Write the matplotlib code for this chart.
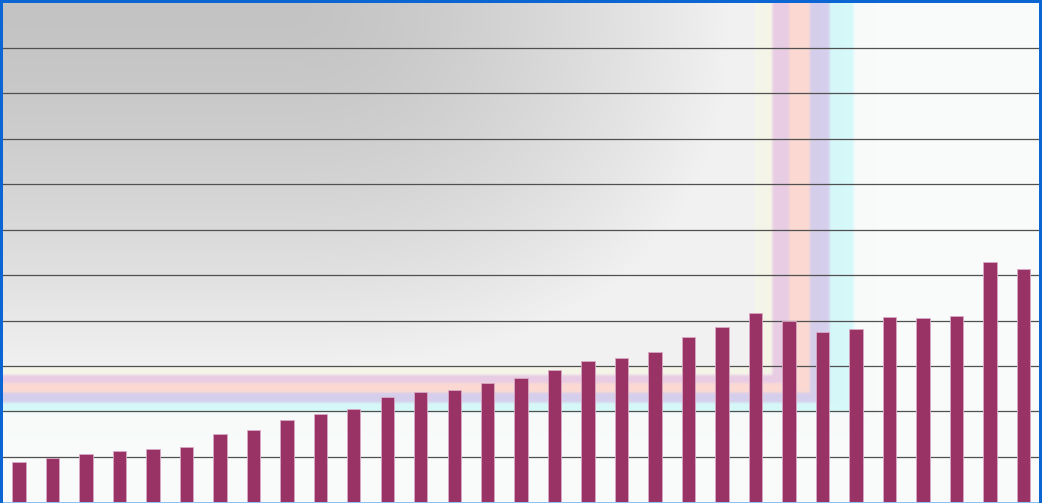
import numpy as np
import matplotlib
matplotlib.use("Agg")
import matplotlib.pyplot as plt
from matplotlib.patches import Rectangle

# bar heights (one unit = one grid step)
positions = list(range(31))
values = [0.90, 0.98, 1.07, 1.13, 1.17, 1.22, 1.50, 1.60, 1.81, 1.95, 2.06,
          2.31, 2.43, 2.47, 2.63, 2.74, 2.91, 3.11, 3.18, 3.31, 3.64, 3.86,
          4.16, 3.99, 3.75, 3.81, 4.08, 4.05, 4.10, 5.29, 5.13]
grid_levels = list(range(1, 11))

# nested highlight rectangles anchored in the top-left corner (outer -> inner)
band_x = [24.94, 24.22, 23.63, 23.01, 22.51]
band_y = [1.98, 2.19, 2.41, 2.62, 2.80]
band_colors = ["#d5f8f9", "#d5ceec", "#fcdad2", "#e8cce4", "#f5f6e8"]
shade_x, shade_y = 22.0, 2.98

W, H = 1042, 503
xlim = (-0.5675, 30.556)
ylim = (-0.011, 11.044)


def hex_rgb(h):
    h = h.lstrip("#")
    return np.array([int(h[i:i + 2], 16) / 255 for i in (0, 2, 4)])


def soft(v, edge, scale):
    # smooth step, about one pixel wide
    return 1 / (1 + np.exp(-(v - edge) / scale))


def background():
    xs = np.linspace(xlim[0], xlim[1], W)
    ys = np.linspace(ylim[1], ylim[0], H)
    X, Y = np.meshgrid(xs, ys)
    sx = 0.7 / 33.48
    sy = 0.7 / 45.5
    img = np.ones((H, W, 3)) * hex_rgb("#f9fbfb")
    for bx, by, c in zip(band_x, band_y, band_colors):
        m = soft(bx, X, sx) * soft(Y, by, sy)
        img = img * (1 - m[..., None]) + hex_rgb(c) * m[..., None]
    # grey gradient, darkest near the top-left
    dx = np.clip(X - 7.8, 0, None) / 13.5
    dy = (ylim[1] - Y) / 8.13
    r = np.clip((dx ** 2.5 + dy ** 2.5) ** (1 / 2.5), 0, 1)
    g = 0.765 + 0.182 * r ** 1.5
    m = soft(shade_x, X, sx) * soft(Y, shade_y, sy)
    img = img * (1 - m[..., None]) + g[..., None] * m[..., None]
    return img


fig = plt.figure(figsize=(W / 100, H / 100), dpi=100)
ax = fig.add_axes([0, 0, 1, 1])
ax.set_xlim(*xlim)
ax.set_ylim(*ylim)
ax.imshow(background(), extent=(xlim[0], xlim[1], ylim[0], ylim[1]),
          aspect="auto", zorder=0, interpolation="bilinear")

for lvl in grid_levels:
    ax.axhline(lvl, color="#505050", lw=0.9, zorder=1)

ax.bar(positions, values, width=0.4, color="#993366",
       edgecolor="#d9a9c5", linewidth=0.6, zorder=3)

ax.axis("off")

# frame: blue on left, top and right, thin light blue at the bottom
blue = "#0b66d4"
fig.add_artist(Rectangle((0, 0), 3 / W, 1, transform=fig.transFigure,
                         color=blue, lw=0, zorder=10))
fig.add_artist(Rectangle((0, 1 - 3 / H), 1, 3 / H, transform=fig.transFigure,
                         color=blue, lw=0, zorder=10))
fig.add_artist(Rectangle((1 - 3 / W, 0), 3 / W, 1, transform=fig.transFigure,
                         color=blue, lw=0, zorder=10))
fig.add_artist(Rectangle((0, 0), 1, 1.2 / H, transform=fig.transFigure,
                         color="#8dc0f0", lw=0, zorder=9))

fig.savefig("out.png", dpi=100)
